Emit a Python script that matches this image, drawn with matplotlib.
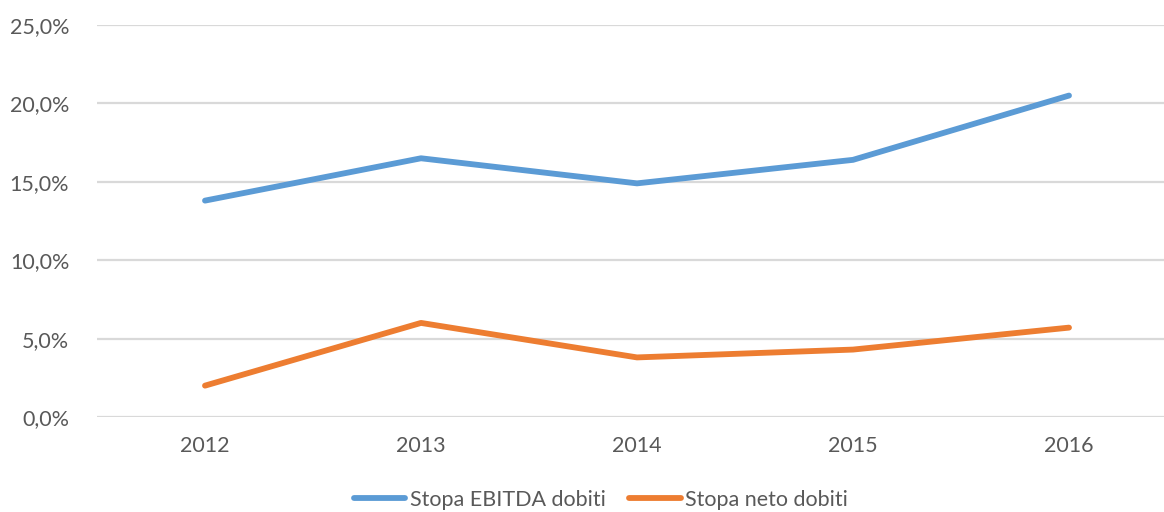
import matplotlib.pyplot as plt
from matplotlib.ticker import FuncFormatter

godine = ['2012', '2013', '2014', '2015', '2016']
ebitda = [13.8, 16.5, 14.9, 16.4, 20.5]
neto = [2.0, 6.0, 3.8, 4.3, 5.7]

plt.rcParams['font.family'] = ['Lato', 'DejaVu Sans']
siva = '#595959'

fig = plt.figure(figsize=(11.64, 5.12), dpi=100)
ax = fig.add_axes([97/1164, 95/512, 1080/1164, 392/512])

x = range(len(godine))
ax.plot(x, ebitda, color='#5B9BD5', lw=4.2, solid_capstyle='round', label='Stopa EBITDA dobiti')
ax.plot(x, neto, color='#ED7D31', lw=4.2, solid_capstyle='round', label='Stopa neto dobiti')

ax.set_xlim(-0.5, 4.5)
ax.set_ylim(0, 25)
ax.set_yticks([0, 5, 10, 15, 20, 25])
ax.yaxis.set_major_formatter(FuncFormatter(lambda v, p: f'{v:.1f}%'.replace('.', ',')))
ax.set_xticks(list(x))
ax.set_xticklabels(godine)
ax.grid(axis='y', color='#d9d9d9', lw=1.6)
ax.set_axisbelow(True)
for s in ax.spines.values():
    s.set_visible(False)
ax.tick_params(length=0, colors=siva, labelsize=15.5)
ax.tick_params(axis='y', pad=20)
ax.tick_params(axis='x', pad=14)

fig.legend(loc='center', bbox_to_anchor=(601/1164, 12/512), ncol=2, frameon=False,
           fontsize=15.5, labelcolor=siva, handlelength=2.4, handletextpad=0.2,
           columnspacing=1.1)

fig.savefig('out.png', dpi=100)
